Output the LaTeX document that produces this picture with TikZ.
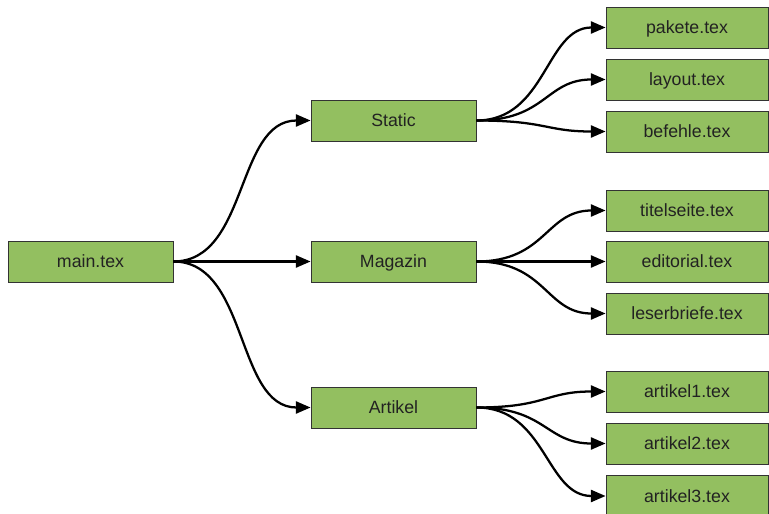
\documentclass[tikz,border=0pt]{standalone}
\usepackage{fontspec}
\setmainfont{Liberation Sans}
\usepackage{tikz}
\usetikzlibrary{positioning,arrows.meta}
\usepackage{xcolor}
\definecolor{filegreen}{RGB}{147,191,96}
\definecolor{filetext}{RGB}{34,34,34}

\begin{document}
\begin{tikzpicture}[x=0.75pt,y=-0.75pt,font=\fontsize{13.3}{15}\selectfont,
  file/.style={draw=black!80,fill=filegreen,text=filetext,line width=0.6pt,
    minimum width=123.75pt,minimum height=30.75pt,inner sep=0pt,
    text height=10pt,text depth=0.6pt},
  leaf/.style={file,minimum width=121.5pt},
  link/.style={line width=1.7pt,-{Triangle[length=11pt,width=9pt]}}]
\useasboundingbox (0,0) rectangle (769,514);
% first level
\node[file] (main) at (90.5,261.5) {main.tex};
\node[file] (static) at (393.5,120.5) {Static};
\node[file] (magazin) at (393.5,261.5) {Magazin};
\node[file] (artikel) at (393.5,407.5) {Artikel};
% files
\node[leaf] (pakete) at (687,27.5) {pakete.tex};
\node[leaf] (layout) at (687,79.5) {layout.tex};
\node[leaf] (befehle) at (687,131.5) {befehle.tex};
\node[leaf] (titelseite) at (687,210.5) {titelseite.tex};
\node[leaf] (editorial) at (687,261.5) {editorial.tex};
\node[leaf] (leserbriefe) at (687,313.5) {leserbriefe.tex};
\node[leaf] (artikel1) at (687,391.5) {artikel1.tex};
\node[leaf] (artikel2) at (687,443.5) {artikel2.tex};
\node[leaf] (artikel3) at (687,496) {artikel3.tex};
% connectors
\draw[link] (main.east) .. controls +(75,0) and +(-75,0) .. (static.west);
\draw[link] (main.east) -- (magazin.west);
\draw[link] (main.east) .. controls +(75,0) and +(-75,0) .. (artikel.west);
\draw[link] (static.east) .. controls +(70,0) and +(-60,0) .. (pakete.west);
\draw[link] (static.east) .. controls +(70,0) and +(-60,0) .. (layout.west);
\draw[link] (static.east) .. controls +(70,0) and +(-60,0) .. (befehle.west);
\draw[link] (magazin.east) .. controls +(70,0) and +(-60,0) .. (titelseite.west);
\draw[link] (magazin.east) -- (editorial.west);
\draw[link] (magazin.east) .. controls +(70,0) and +(-60,0) .. (leserbriefe.west);
\draw[link] (artikel.east) .. controls +(70,0) and +(-60,0) .. (artikel1.west);
\draw[link] (artikel.east) .. controls +(70,0) and +(-60,0) .. (artikel2.west);
\draw[link] (artikel.east) .. controls +(70,0) and +(-60,0) .. (artikel3.west);
\end{tikzpicture}
\end{document}
